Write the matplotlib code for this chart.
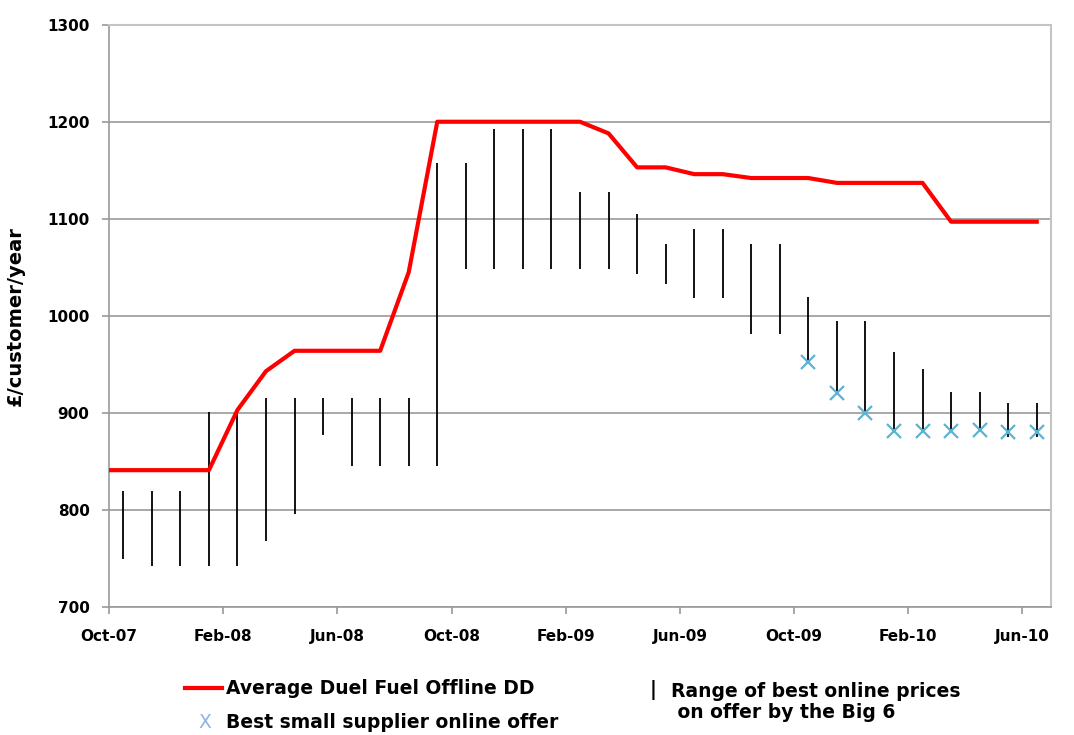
import matplotlib
matplotlib.use('Agg')
import matplotlib.pyplot as plt
import numpy as np

# monthly values, Oct-07 .. Jun-10 (33 months)
avg_offline = [841, 841, 841, 841, 903, 943, 964, 964, 964, 964, 1045,
               1200, 1200, 1200, 1200, 1200, 1200, 1188, 1153, 1153, 1146,
               1146, 1142, 1142, 1142, 1137, 1137, 1137, 1137, 1097, 1097,
               1097, 1097]

big6_high = [820, 820, 820, 901, 901, 915, 915, 915, 915, 915, 915,
             1157, 1157, 1193, 1193, 1193, 1128, 1128, 1105, 1074, 1090,
             1090, 1074, 1074, 1019, 995, 995, 963, 945, 922, 922,
             910, 910]
big6_low = [749, 742, 742, 742, 742, 768, 796, 877, 845, 845, 845,
            845, 1048, 1048, 1048, 1048, 1048, 1048, 1043, 1033, 1018,
            1018, 981, 981, 952, 921, 900, 882, 882, 882, 884,
            875, 875]

# best small supplier offer, from Oct-09 (month 24) on
small_start = 24
small_offer = [952, 921, 900, 881, 881, 881, 882, 880, 880]

tick_labels = ['Oct-07', 'Feb-08', 'Jun-08', 'Oct-08', 'Feb-09',
               'Jun-09', 'Oct-09', 'Feb-10', 'Jun-10']

W, H = 1074, 735
fig = plt.figure(figsize=(W / 100, H / 100), dpi=100)
ax = fig.add_axes([109 / W, 1 - 607 / H, (1051 - 109) / W, (607 - 24.7) / H])

mid = np.arange(len(avg_offline)) + 0.5
avg_x = mid.copy()
avg_x[0] = 0  # line starts at the axis edge

ax.vlines(mid, big6_low, big6_high, color='black', lw=1.3, zorder=3)
ax.plot(avg_x, avg_offline, color='#ff0000', lw=3, zorder=4,
        solid_joinstyle='round')
ax.plot(mid[small_start:], small_offer, 'x', color='#5bb4d4', ms=10,
        mew=1.6, zorder=5)

ax.set_xlim(0, 33)
ax.set_ylim(700, 1300)
ax.set_yticks(range(700, 1301, 100))
ax.set_xticks(range(0, 33, 4))
ax.set_xticklabels(tick_labels)
ax.yaxis.grid(True, color='#9a9a9a', lw=1.2)
ax.set_axisbelow(True)

for s in ['left', 'bottom']:
    ax.spines[s].set_color('#9a9a9a')
    ax.spines[s].set_linewidth(1.2)
for s in ['top', 'right']:
    ax.spines[s].set_color('#c4c4c4')
    ax.spines[s].set_linewidth(1.5)

ax.tick_params(axis='both', direction='out', length=5, width=1.2,
               color='#9a9a9a', labelsize=11)
ax.tick_params(axis='y', pad=9)
ax.tick_params(axis='x', pad=11)
for lab in ax.get_xticklabels() + ax.get_yticklabels():
    lab.set_fontweight('bold')

ax.set_ylabel('£/customer/year', fontsize=14, fontweight='bold')
ax.yaxis.set_label_coords(-0.089, 0.5)

# legend drawn below the axes
fig.add_artist(plt.Line2D([185 / W, 222 / W], [1 - 688 / H] * 2,
                          color='#ff0000', lw=3))
fig.text(226 / W, 1 - 688 / H, 'Average Duel Fuel Offline DD',
         fontsize=13.5, fontweight='bold', va='center')
fig.text(205 / W, 1 - 723 / H, 'X', color='#8db4e2', fontsize=13.5,
         va='center', ha='center')
fig.text(226 / W, 1 - 723 / H, 'Best small supplier online offer',
         fontsize=13.5, fontweight='bold', va='center')
fig.text(653 / W, 1 - 690 / H, '|', fontsize=13.5, fontweight='bold',
         va='center', ha='center')
fig.text(671 / W, 1 - 702 / H,
         'Range of best online prices\n on offer by the Big 6',
         fontsize=13.5, fontweight='bold', va='center', linespacing=1.15)

fig.savefig('out.png', dpi=100)
